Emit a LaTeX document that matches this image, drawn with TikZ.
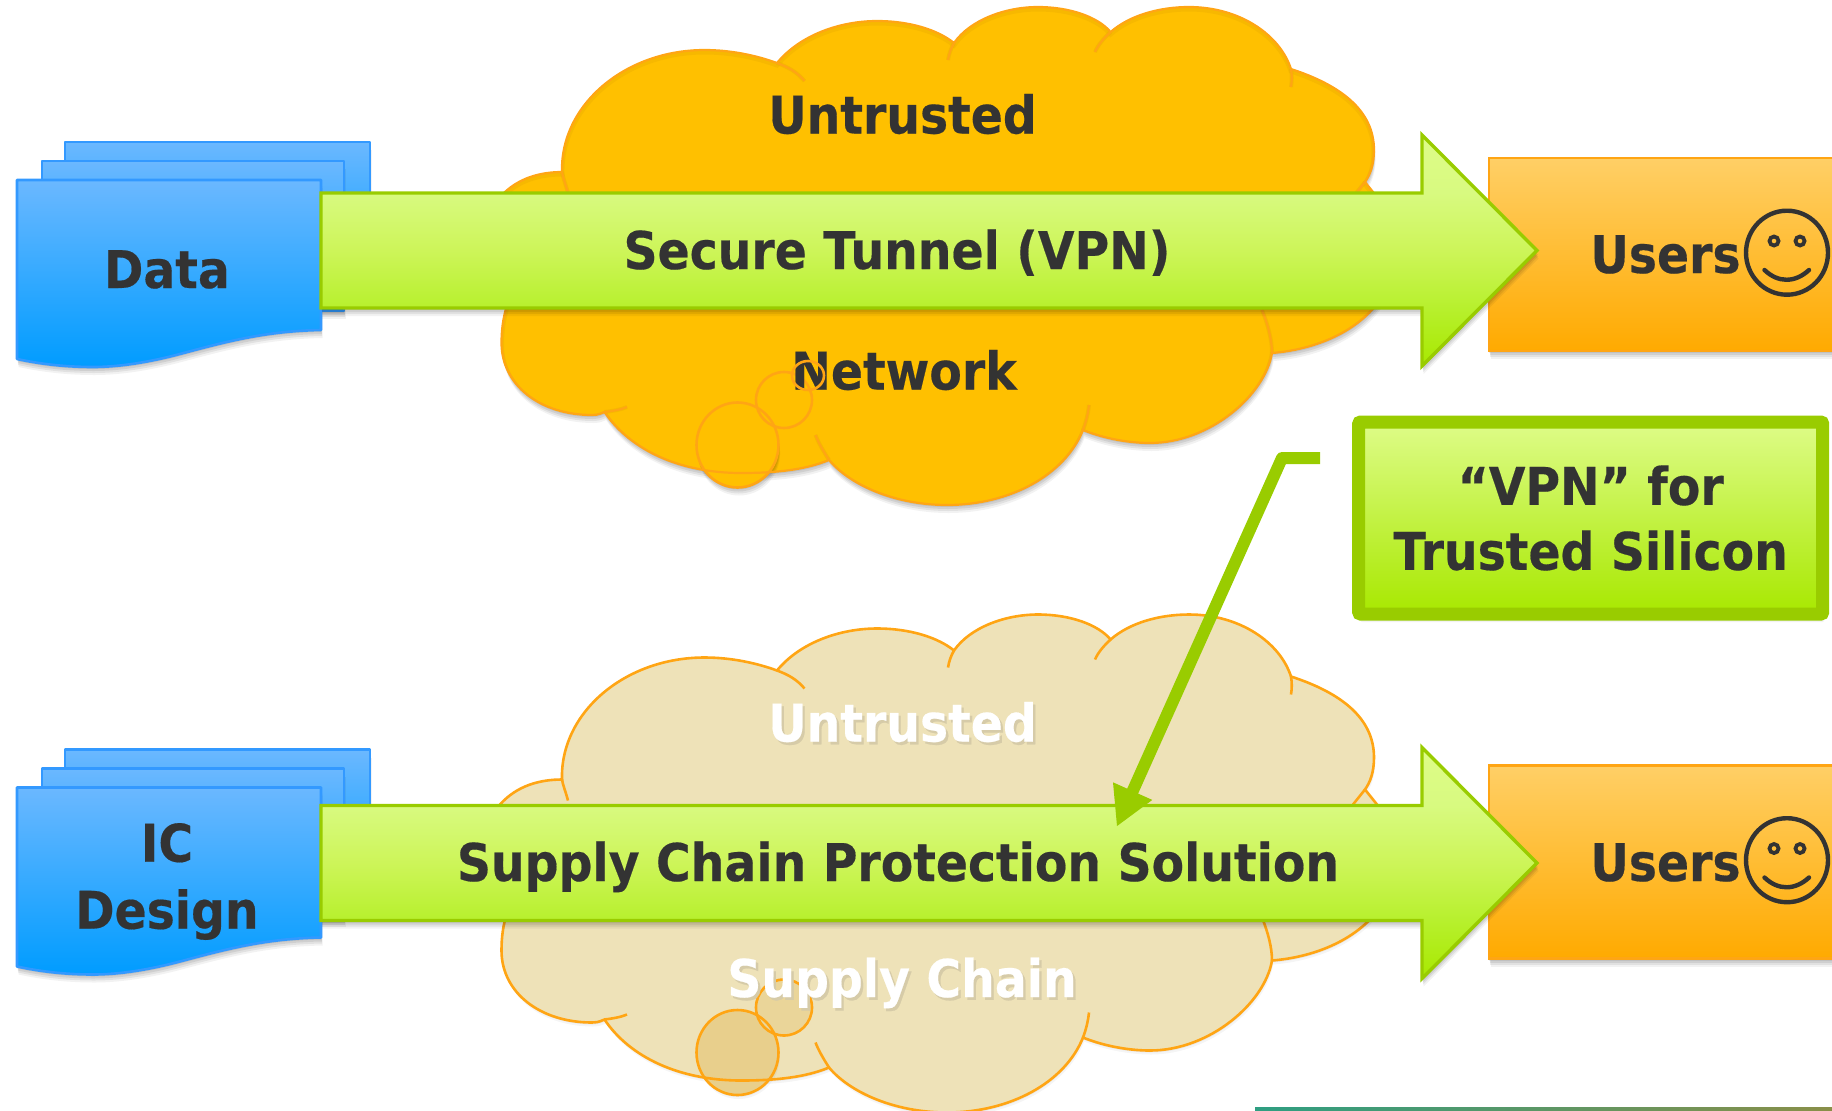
\documentclass[tikz,border=0pt]{standalone}
\usepackage{fontspec}
\setmainfont{DejaVu Sans}[BoldFeatures={FakeStretch=0.91,FakeBold=0.35}]
\usetikzlibrary{shadows,arrows.meta}
\definecolor{txt}{HTML}{333333}
\definecolor{docline}{HTML}{3399FF}
\definecolor{doctop}{HTML}{6BB8FF}
\definecolor{docbot}{HTML}{009CFF}
\definecolor{arline}{HTML}{99CC00}
\definecolor{artop}{HTML}{DEFC88}
\definecolor{arup}{HTML}{D8FA80}
\definecolor{armid}{HTML}{CDF559}
\definecolor{arlow}{HTML}{B7F02D}
\definecolor{arbot}{HTML}{A8E800}
\definecolor{ustop}{HTML}{FFCF66}
\definecolor{usbot}{HTML}{FFAA00}
\definecolor{usline}{HTML}{FFA514}
\definecolor{cloudA}{HTML}{FFC000}
\definecolor{cloudAin}{HTML}{EBAD00}
\definecolor{cloudB}{HTML}{EEE2B8}
\definecolor{cloudBe}{HTML}{E8CF8C}
\definecolor{textshade}{HTML}{D6CBA8}
\definecolor{stripa}{HTML}{2E9E82}
\definecolor{stripb}{HTML}{8A8F48}
\pgfdeclareverticalshading{arrowgrad}{100bp}{color(0bp)=(arbot); color(25bp)=(arbot); color(37.5bp)=(arlow); color(50bp)=(armid); color(62.5bp)=(arup); color(75bp)=(artop); color(100bp)=(artop)}
\newcommand\ShadowedText[1]{\rlap{\kern1.2pt\raisebox{-1.4pt}{\textcolor{textshade}{#1}}}\textcolor{white}{#1}}
\newcommand\CloudOutline{
 (507,305) -- (490,250) -- (500,197)
 .. controls (517,178) and (540,172) .. (562,172)
 .. controls (560,105) and (625,50) .. (704.5,50)
 .. controls (730,50) and (755,55) .. (777,63)
 .. controls (800,35) and (840,21) .. (877,21)
 .. controls (910,21) and (938,30) .. (954,43)
 .. controls (970,20) and (1005,7) .. (1038,7)
 .. controls (1070,7) and (1098,17) .. (1110.6,32)
 .. controls (1130,15) and (1160,7) .. (1189,7)
 .. controls (1240,7) and (1280,35) .. (1291,69)
 .. controls (1340,85) and (1374,110) .. (1374,150)
 .. controls (1374,165) and (1370,175) .. (1365,182)
 -- (1377,197) -- (1385,250) -- (1380,300)
 .. controls (1355,335) and (1310,350) .. (1272,353)
 .. controls (1265,395) and (1210,443) .. (1150,443)
 .. controls (1125,443) and (1100,437) .. (1083,430)
 .. controls (1065,475) and (1010,505) .. (947,505)
 .. controls (895,505) and (850,485) .. (829,460)
 .. controls (805,470) and (775,473) .. (741,473)
 .. controls (680,473) and (630,450) .. (604.5,412)
 .. controls (598,415) and (595,415) .. (592,415)
 .. controls (540,415) and (501.5,385) .. (501.5,343)
 .. controls (501.5,330) and (503,318) .. (507,305)
 -- cycle
}
\newcommand\CloudTails{
 (562,172) .. controls (563,178) and (565,182) .. (568,193)
 (777,63) .. controls (788,67) and (797,72) .. (804.5,81)
 (954,43) .. controls (951,48) and (949,54) .. (948,60)
 (1110.6,32) .. controls (1104,38) and (1098,45) .. (1095,52)
 (1291,69) .. controls (1292,75) and (1292,81) .. (1291,87)
 (1365,182) -- (1353,197)
 (1272,353) .. controls (1272,340) and (1268,325) .. (1262,310)
 (1083,430) .. controls (1086,422) and (1088,414) .. (1089,405)
 (829,460) .. controls (824,452) and (819,444) .. (815.5,435)
 (604.5,412) .. controls (612,411) and (620,410) .. (627,407)
}
\newcommand\DocStack{
 \path[docsheet] (65,142) -- (370,142) -- (370,292) -- (65,292) -- cycle;
 \path[docsheet] (42,161) -- (344,161) -- (344,311) -- (42,311) -- cycle;
 \path[docsheet] (17,180) -- (321,180) -- (321,330)
   .. controls (265,331) and (225,342) .. (180,354)
   .. controls (150,362) and (120,367) .. (93,367)
   .. controls (65,367) and (40,364) .. (17,359) -- cycle;
}
\newcommand\BigArrow{
 \path[bigarrow] (321,193) -- (1422,193) -- (1422,135) -- (1537,250.5)
   -- (1422,366) -- (1422,308) -- (321,308) -- cycle;
}
\newcommand\Smiley{
 \draw[smile] (1787,252.7) ellipse [x radius=41,y radius=42];
 \draw[eye] (1774,241) circle [radius=4.5];
 \draw[eye] (1800,241) circle [radius=4.5];
 \draw[smile,line cap=round] (1764.5,270) .. controls (1778,283) and (1795,283) .. (1809,270);
}
\tikzset{
 softshadow/.style={
  drop shadow={shadow xshift=.2pt,shadow yshift=-1pt,opacity=.08,fill=black},
  drop shadow={shadow xshift=.4pt,shadow yshift=-2pt,opacity=.08,fill=black},
  drop shadow={shadow xshift=.6pt,shadow yshift=-3pt,opacity=.07,fill=black},
  drop shadow={shadow xshift=.8pt,shadow yshift=-4pt,opacity=.05,fill=black}},
 lightshadow/.style={
  drop shadow={shadow xshift=.3pt,shadow yshift=-1pt,opacity=.05,fill=black},
  drop shadow={shadow xshift=.6pt,shadow yshift=-2pt,opacity=.04,fill=black}},
 docsheet/.style={softshadow,draw=docline,line width=1.3pt,top color=doctop,bottom color=docbot,line join=round},
 bigarrow/.style={softshadow,draw=arline,line width=1.7pt,shading=arrowgrad,line join=miter},
 usersbox/.style={softshadow,draw=usline,line width=1.3pt,top color=ustop,bottom color=usbot,rectangle,inner sep=0pt,outer sep=0pt,minimum width=380*.5pt,minimum height=193*.5pt},
 smile/.style={draw=txt,line width=2.2pt},
 eye/.style={draw=txt,line width=1.9pt},
 lbl/.style={anchor=base,inner sep=0pt,font=\bfseries\fontsize{26}{31}\selectfont,text=txt,align=center},
 lblc/.style={lbl,anchor=center},
 bubbleline/.style={draw=usline,line width=1.3pt},
 vpnbox/.style={softshadow,draw=arline,line width=6.5pt,top color=artop,bottom color=arbot,rectangle,rounded corners=1pt,inner sep=0pt,outer sep=0pt,minimum width=464*.5pt,minimum height=192*.5pt},
 callout/.style={draw=arline,line width=6pt,line join=round,-{Triangle[length=19.5pt,width=20pt]}},
}
\begin{document}
\begin{tikzpicture}[x=.5pt,y=-.5pt]
\useasboundingbox (0,0) rectangle (1832,1110);
% ---------- upper row
\DocStack
\path[fill=cloudA,softshadow] \CloudOutline;
\begin{scope}
 \clip \CloudOutline;
 \draw[cloudAin,line width=2.5pt,opacity=.4,shift={(0,2)}] \CloudOutline;
 \draw[cloudAin,line width=2pt,opacity=.4] \CloudTails;
\end{scope}
\path[fill=cloudA,softshadow] (737.5,445) ellipse [x radius=41,y radius=42.5];
\draw[usline,line width=1.1pt] \CloudOutline;
\draw[usline,line width=1.1pt] \CloudTails;
\draw[bubbleline] (737.5,445) ellipse [x radius=41,y radius=42.5];
\draw[bubbleline] (784,400) ellipse [x radius=28,y radius=28];
\node[usersbox,anchor=north west] (usersA) at (1489,158) {};
\BigArrow
\node[lbl] (dataT) at (167,288) {Data};
\node[lbl] (untrA) at (902.5,133.5) {Untrusted};
\node[lbl] (tunnel) at (897,269) {Secure Tunnel (VPN)};
\node[lbl] (netw) at (904,389.5) {Network};
\draw[bubbleline] (808,375.5) ellipse [x radius=16,y radius=14.5];
\node[lbl] (usersAt) at (1665.5,273) {Users};
\Smiley
% ---------- callout box
\node[vpnbox,anchor=north west] (vpn) at (1358.7,422) {};
\node[lblc,align=center] (vpnT) at (vpn.center) {``VPN'' for\\[1.5pt]Trusted Silicon};
% ---------- lower row
\begin{scope}[shift={(0,607.5)}]
 \DocStack
 \path[fill=cloudB,lightshadow] \CloudOutline;
 \path[fill=cloudBe,lightshadow] (737.5,445) ellipse [x radius=41,y radius=42.5];
 \path[fill=cloudBe!70!cloudB] (784,400) ellipse [x radius=28,y radius=28];
 \draw[usline,line width=1.3pt] \CloudOutline;
 \draw[usline,line width=1.3pt] \CloudTails;
 \draw[bubbleline] (737.5,445) ellipse [x radius=41,y radius=42.5];
 \draw[bubbleline] (784,400) ellipse [x radius=28,y radius=28];
 \node[usersbox,anchor=north west] (usersB) at (1489,158) {};
\end{scope}
\begin{scope}[shift={(0,612.5)}]
 \BigArrow
\end{scope}
\node[lblc] (design) at (167,881.5) {IC\\[2.5pt]Design};
\node[lbl] (untrB) at (902.5,741.5) {\ShadowedText{Untrusted}};
\node[lbl] (solution) at (898,881) {Supply Chain Protection Solution};
\node[lbl] (chainT) at (902,997) {\ShadowedText{Supply Chain}};
\node[lbl] (usersBt) at (1665.5,881) {Users};
\begin{scope}[shift={(0,607.5)}]
 \Smiley
\end{scope}
% ---------- callout line
\coordinate (cstart) at (1320,458);
\coordinate (ccorner) at (1282,458);
\coordinate (cend) at (1116.7,826.7);
\draw[callout] (cstart) -- (ccorner) -- (cend);
% ---------- strip at the lower edge
\path[left color=stripa,right color=stripb] (1255,1107) rectangle (1832,1110);
\end{tikzpicture}
\end{document}
